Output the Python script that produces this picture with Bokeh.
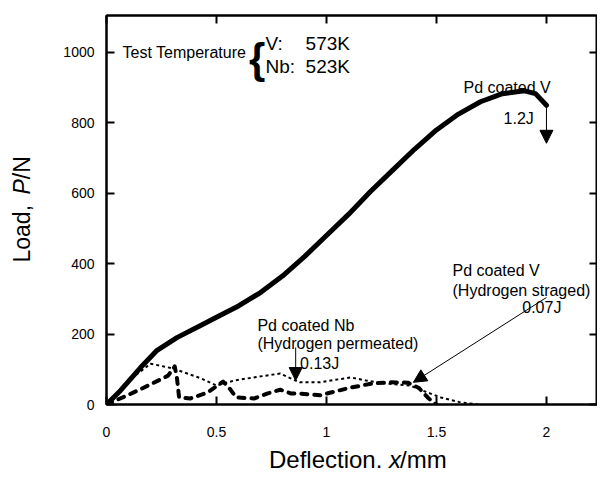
import math
from bokeh.plotting import figure
from bokeh.layouts import row, column
from bokeh.models import Range1d, LinearAxis, FixedTicker, Label, Arrow, NormalHead
from bokeh.core.properties import value
from bokeh.embed import file_html
from bokeh.resources import INLINE

# ---- data ----
# Pd coated V (no hydrogen), solid
v_x = [0, 0.064, 0.155, 0.23, 0.32, 0.43, 0.5, 0.6, 0.7, 0.8, 0.9, 1.0, 1.1, 1.2,
       1.3, 1.4, 1.5, 1.6, 1.7, 1.8, 1.9, 1.95, 2.0]
v_p = [0, 40, 105, 154, 190, 225, 248, 280, 318, 365, 420, 480, 540, 605,
       665, 725, 780, 825, 860, 883, 891, 883, 850]

# Pd coated V (hydrogen straged), bold dashed
vh_x = [0, 0.095, 0.19, 0.28, 0.31, 0.32, 0.33, 0.38, 0.46, 0.53, 0.56, 0.59, 0.67,
        0.73, 0.79, 0.84, 0.88, 0.97, 1.0, 1.11, 1.21, 1.29, 1.37, 1.42, 1.46, 1.49, 1.5]
vh_p = [0, 26, 54, 82, 108, 77, 20, 17, 34, 65, 45, 20, 17,
        31, 42, 31, 31, 26, 31, 48, 60, 63, 62, 47, 20, 3, 0]

# Pd coated Nb (hydrogen permeated), dotted
nb_x = [0, 0.12, 0.2, 0.305, 0.43, 0.50, 0.58, 0.67, 0.79, 0.86, 0.88, 0.97, 1.11,
        1.18, 1.26, 1.38, 1.46, 1.52, 1.61, 1.69]
nb_p = [0, 77, 116, 102, 74, 54, 68, 77, 88, 68, 63, 63, 77,
        68, 60, 54, 34, 20, 6, 0]

x_ticks = [0, 0.5, 1, 1.5, 2]
x_tick_labels = ["0", "0.5", "1", "1.5", "2"]
y_ticks = [0, 200, 400, 600, 800, 1000]
y_tick_labels = ["0", "200", "400", "600", "800", "1000"]

x_title = ["Deflection. ", "x", "/mm"]
y_title = ["Load, ", "P", "/N"]

FONT = "Liberation Sans"
W, H = 597, 473
LW = 60          # width of the strip holding the y title
BH = 30          # height of the strip holding the x title
MW, MH = W - LW, H - BH

p = figure(width=MW, height=MH,
           x_range=Range1d(0, 2.232), y_range=Range1d(0, 1105),
           output_backend="svg", toolbar_location=None,
           min_border_left=106 - LW, min_border_right=0,
           min_border_top=15, min_border_bottom=MH - 404)
p.xgrid.visible = False
p.ygrid.visible = False
p.outline_line_color = "black"
p.outline_line_width = 2
p.background_fill_color = "white"
p.border_fill_color = "white"

def style_axis(ax, ticks, labels, show_labels, standoff):
    ax.ticker = FixedTicker(ticks=ticks)
    ax.major_label_overrides = {t: l for t, l in zip(ticks, labels)}
    ax.major_tick_in = 8
    ax.major_tick_out = 0
    ax.minor_tick_in = 0
    ax.minor_tick_out = 0
    ax.axis_line_width = 2
    ax.axis_line_color = "black"
    ax.major_tick_line_width = 2
    ax.major_tick_line_color = "black"
    ax.major_label_text_font = FONT
    ax.major_label_text_color = "black"
    ax.major_label_standoff = standoff
    if show_labels:
        ax.major_label_text_font_size = "14px"
    else:
        ax.major_label_text_font_size = "0px"
        ax.major_label_standoff = 0

style_axis(p.xaxis[0], x_ticks, x_tick_labels, True, 22)
style_axis(p.yaxis[0], y_ticks, y_tick_labels, True, 12)

top = LinearAxis()
style_axis(top, x_ticks, x_tick_labels, False, 0)
p.add_layout(top, "above")
right = LinearAxis()
style_axis(right, y_ticks, y_tick_labels, False, 0)
p.add_layout(right, "right")

# curves
p.line(v_x, v_p, line_color="black", line_width=5, line_join="round", line_cap="round")
p.line(nb_x, nb_p, line_color="black", line_width=2, line_dash="3 3")
p.line(vh_x, vh_p, line_color="black", line_width=4, line_dash="6 7",
       line_cap="round", line_join="round")

def lab(x, y, text, size="16px", align="left", baseline="alphabetic", style="normal"):
    p.add_layout(Label(x=x, y=y, text=text, text_font=FONT, text_font_size=size,
                       text_align=align, text_baseline=baseline, text_font_style=style,
                       text_color="black"))

# header
lab(0.073, 1000, "Test Temperature", size="16px", baseline="middle")
lab(0.648, 982, "{", size="42px", baseline="middle", style="bold")
lab(0.723, 1025, "V:", size="19px", baseline="middle")
lab(0.905, 1025, "573K", size="19px", baseline="middle")
lab(0.723, 960, "Nb:", size="19px", baseline="middle")
lab(0.905, 960, "523K", size="19px", baseline="middle")

# curve annotations
lab(1.623, 900, "Pd coated V")
lab(1.805, 812, "1.2J")
lab(0.686, 224, "Pd coated Nb")
lab(0.686, 173, "(Hydrogen permeated)")
lab(0.88, 116, "0.13J")
lab(1.573, 381, "Pd coated V")
lab(1.573, 324, "(Hydrogen straged)")
lab(1.89, 276, "0.07J")

def arrow(x0, y0, x1, y1):
    p.add_layout(Arrow(end=NormalHead(size=13, fill_color="black", line_color="black"),
                       x_start=x0, y_start=y0, x_end=x1, y_end=y1,
                       line_color="black", line_width=1))

arrow(2.0, 850, 2.0, 742)
arrow(0.86, 162, 0.86, 68)
arrow(2.0, 304, 1.395, 63)

# ---- strips for the axis titles (pixel coordinate figures) ----
def strip(w, h):
    f = figure(width=w, height=h, x_range=Range1d(0, w), y_range=Range1d(0, h),
               output_backend="svg", toolbar_location=None,
               x_axis_location=None, y_axis_location=None,
               min_border_left=0, min_border_right=0, min_border_top=0, min_border_bottom=0)
    f.xgrid.visible = False
    f.ygrid.visible = False
    f.outline_line_color = None
    f.background_fill_color = "white"
    f.border_fill_color = "white"
    return f

styles = ["normal", "italic", "normal"]

bot = strip(MW, BH)
bx = [369 - LW, 369 - LW, 381 - LW]
baligns = ["right", "left", "left"]
for t, s, xx, al in zip(x_title, styles, bx, baligns):
    bot.text(x=[xx], y=[14.5], text=[t], text_font=value(FONT), text_font_size=value("24px"),
             text_font_style=s, text_align=al, text_baseline="alphabetic",
             text_color="black")

left = strip(LW, H)
ly = [H - 262, H - 194, H - 178.7]
for t, s, yy in zip(y_title, styles, ly):
    left.text(x=[21], y=[yy], text=[t], text_font=value(FONT), text_font_size=value("23px"),
              text_font_style=s, text_align="left", text_baseline="alphabetic",
              angle=math.pi / 2, text_color="black")

layout = row(left, column(p, bot))
open("out.html", "w").write(file_html(layout, INLINE))
